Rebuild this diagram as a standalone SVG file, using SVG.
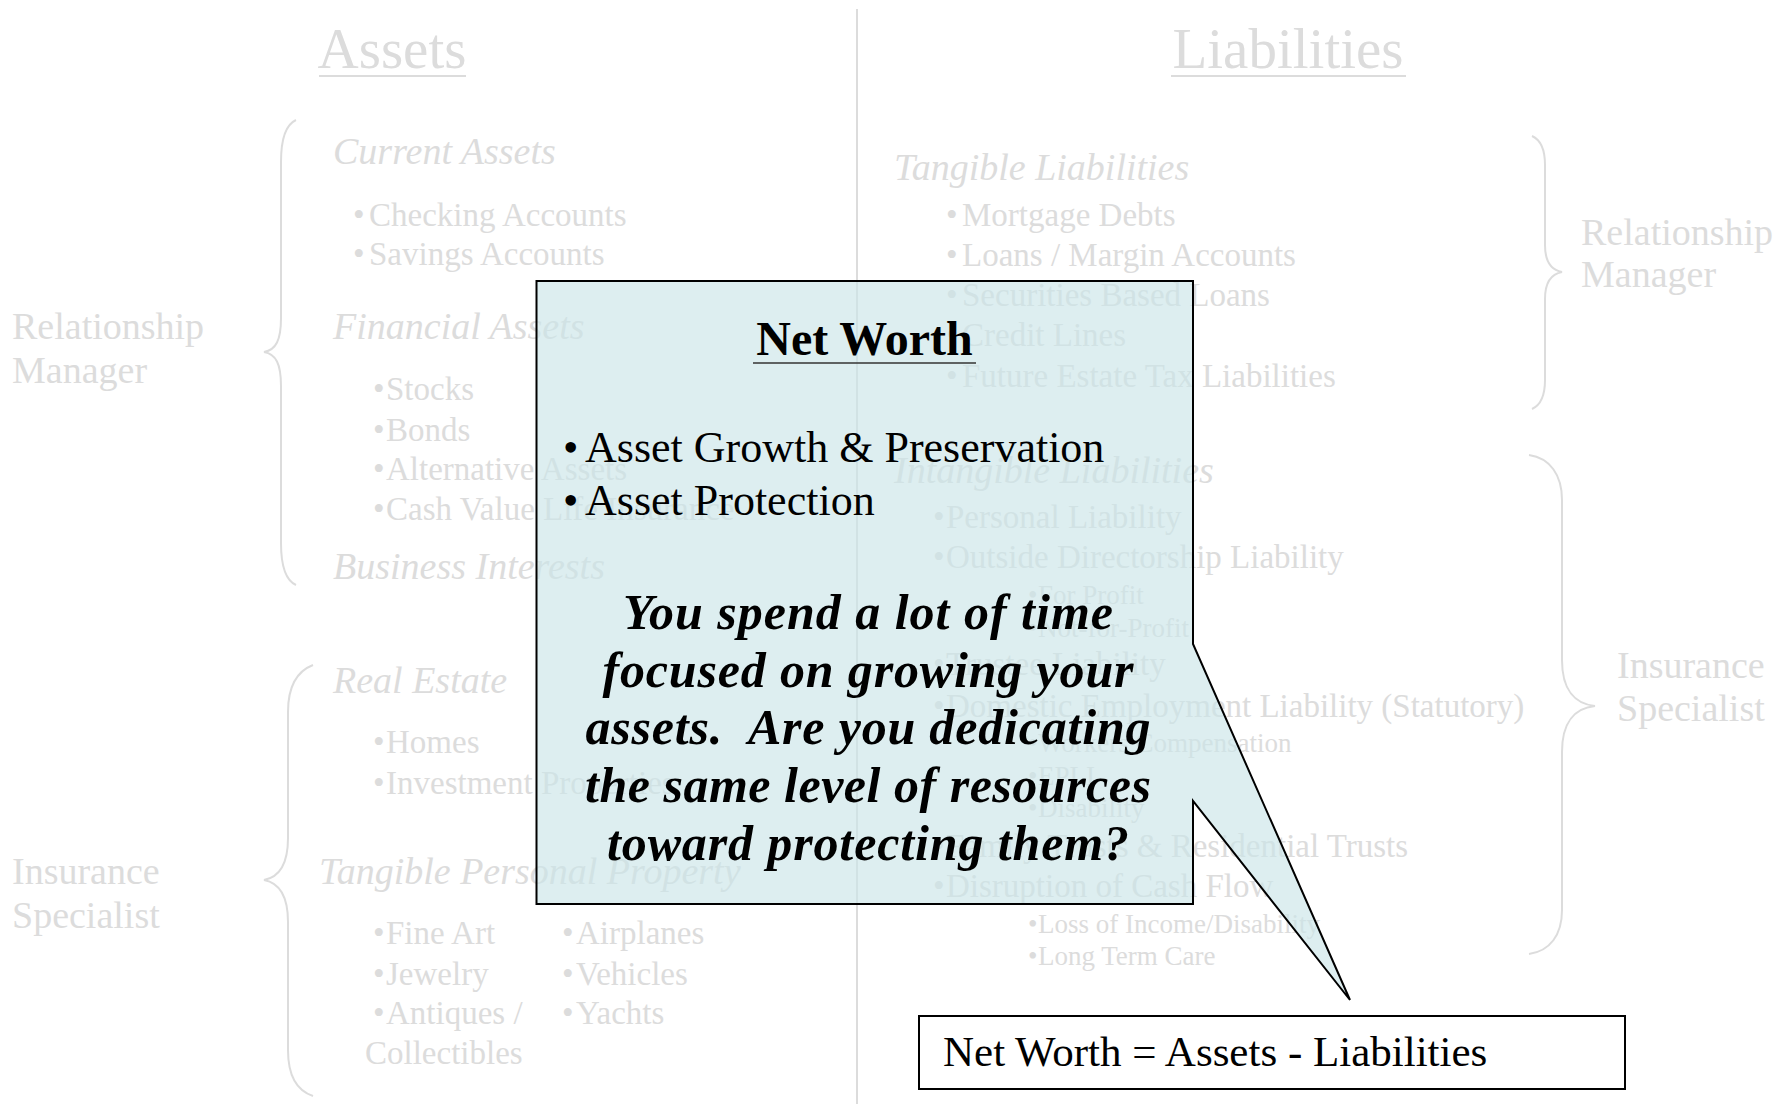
<svg xmlns="http://www.w3.org/2000/svg" width="1790" height="1104" viewBox="0 0 1790 1104">
<style>
text{font-family:"Liberation Serif","Times New Roman",serif;}
.g{fill:#dcdcdc;}
.t{font-size:57px;}
.h{font-size:38px;font-style:italic;}
.b{font-size:33px;}
.s{font-size:27px;}
.r{font-size:38px;}
.ln{stroke:#dcdcdc;stroke-width:2;fill:none;}
.k{fill:#000;}
</style>
<rect width="1790" height="1104" fill="#fff"/>
<g id="connectors">
<line class="ln" x1="857" y1="9" x2="857" y2="1104"/>
<path class="ln" d="M296,120 C285,125 281,140 281,162 V318 C281,340 276,350 264,352 C276,354 281,364 281,386 V543 C281,565 285,580 296,585"/>
<path class="ln" d="M313,665 C295,672 288,690 288,712 V838 C288,862 280,877 264,880 C280,883 288,898 288,922 V1050 C288,1073 295,1090 313,1096"/>
<path class="ln" d="M1532,136 C1541,140 1545,150 1545,165 V245 C1545,262 1551,270 1562,272 C1551,274 1545,282 1545,299 V380 C1545,395 1541,405 1532,409"/>
<path class="ln" d="M1529,455 C1550,458 1562,475 1562,500 V660 C1562,690 1575,704 1595,706 C1575,708 1562,722 1562,752 V910 C1562,935 1550,951 1529,954"/>
</g>
<g id="title-assets">
<text class="g t" x="392" y="68" text-anchor="middle">Assets</text>
<line class="ln" x1="319" y1="76" x2="466" y2="76" stroke-width="1.5"/>
</g>
<g id="title-liabilities">
<text class="g t" x="1288" y="68" text-anchor="middle">Liabilities</text>
<line class="ln" x1="1171" y1="76" x2="1406" y2="76" stroke-width="1.5"/>
</g>
<g id="role-left-rm" class="g r">
<text x="12" y="339">Relationship</text>
<text x="12" y="383">Manager</text>
</g>
<g id="role-left-is" class="g r">
<text x="12" y="884">Insurance</text>
<text x="12" y="928">Specialist</text>
</g>
<g id="role-right-rm" class="g r">
<text x="1581" y="245">Relationship</text>
<text x="1581" y="287">Manager</text>
</g>
<g id="role-right-is" class="g r">
<text x="1617" y="678">Insurance</text>
<text x="1617" y="721">Specialist</text>
</g>
<g id="current-assets" class="g">
<text class="h" x="333" y="164">Current Assets</text>
<text class="b" y="226"><tspan x="353">•</tspan><tspan x="369">Checking Accounts</tspan></text>
<text class="b" y="265"><tspan x="353">•</tspan><tspan x="369">Savings Accounts</tspan></text>
</g>
<g id="financial-assets" class="g">
<text class="h" x="333" y="339">Financial Assets</text>
<text class="b" y="400"><tspan x="373">•</tspan><tspan x="386">Stocks</tspan></text>
<text class="b" y="441"><tspan x="373">•</tspan><tspan x="386">Bonds</tspan></text>
<text class="b" y="480"><tspan x="373">•</tspan><tspan x="386">Alternative Assets</tspan></text>
<text class="b" y="520"><tspan x="373">•</tspan><tspan x="386">Cash Value Life Insurance</tspan></text>
</g>
<g id="business-interests" class="g">
<text class="h" x="333" y="579">Business Interests</text>
</g>
<g id="real-estate" class="g">
<text class="h" x="333" y="693">Real Estate</text>
<text class="b" y="753"><tspan x="373">•</tspan><tspan x="386">Homes</tspan></text>
<text class="b" y="794"><tspan x="373">•</tspan><tspan x="386">Investment Properties</tspan></text>
</g>
<g id="tangible-personal-property" class="g">
<text class="h" x="319" y="884">Tangible Personal Property</text>
<text class="b" y="944"><tspan x="373">•</tspan><tspan x="386">Fine Art</tspan></text>
<text class="b" y="985"><tspan x="373">•</tspan><tspan x="386">Jewelry</tspan></text>
<text class="b" y="1024"><tspan x="373">•</tspan><tspan x="386">Antiques /</tspan></text>
<text class="b" x="365" y="1064">Collectibles</text>
<text class="b" y="944"><tspan x="562">•</tspan><tspan x="576">Airplanes</tspan></text>
<text class="b" y="985"><tspan x="562">•</tspan><tspan x="576">Vehicles</tspan></text>
<text class="b" y="1024"><tspan x="562">•</tspan><tspan x="576">Yachts</tspan></text>
</g>
<g id="tangible-liabilities" class="g">
<text class="h" x="894" y="180">Tangible Liabilities</text>
<text class="b" y="226"><tspan x="946">•</tspan><tspan x="962">Mortgage Debts</tspan></text>
<text class="b" y="266"><tspan x="946">•</tspan><tspan x="962">Loans / Margin Accounts</tspan></text>
<text class="b" y="306"><tspan x="946">•</tspan><tspan x="962">Securities Based Loans</tspan></text>
<text class="b" y="346"><tspan x="946">•</tspan><tspan x="962">Credit Lines</tspan></text>
<text class="b" y="387"><tspan x="946">•</tspan><tspan x="962">Future Estate Tax Liabilities</tspan></text>
</g>
<g id="intangible-liabilities" class="g">
<text class="h" x="894" y="483">Intangible Liabilities</text>
<text class="b" y="528"><tspan x="933">•</tspan><tspan x="946">Personal Liability</tspan></text>
<text class="b" y="568"><tspan x="933">•</tspan><tspan x="946">Outside Directorship Liability</tspan></text>
<text class="s" y="604"><tspan x="1028">•</tspan><tspan x="1038">For Profit</tspan></text>
<text class="s" y="637"><tspan x="1028">•</tspan><tspan x="1038">Not-for-Profit</tspan></text>
<text class="b" y="675"><tspan x="933">•</tspan><tspan x="946">Trustee Liability</tspan></text>
<text class="b" y="717"><tspan x="933">•</tspan><tspan x="946">Domestic Employment Liability (Statutory)</tspan></text>
<text class="s" y="752"><tspan x="1028">•</tspan><tspan x="1038">Workers Compensation</tspan></text>
<text class="s" y="785"><tspan x="1028">•</tspan><tspan x="1038">EPLI</tspan></text>
<text class="s" y="817"><tspan x="1028">•</tspan><tspan x="1038">Disability</tspan></text>
<text class="b" y="857"><tspan x="933">•</tspan><tspan x="946">Family Trusts &amp; Residential Trusts</tspan></text>
<text class="b" y="897"><tspan x="933">•</tspan><tspan x="946">Disruption of Cash Flow</tspan></text>
<text class="s" y="933"><tspan x="1028">•</tspan><tspan x="1038">Loss of Income/Disability</tspan></text>
<text class="s" y="965"><tspan x="1028">•</tspan><tspan x="1038">Long Term Care</tspan></text>
</g>
<g id="callout">
<path d="M536.5,281 H1193 V644 L1350,1000 L1193,801 V904 H536.5 Z" fill="#cbe5e8" fill-opacity="0.65" stroke="#000" stroke-width="2" stroke-linejoin="miter"/>
<text class="k" x="864.5" y="355" text-anchor="middle" font-size="48" font-weight="bold">Net Worth</text>
<line x1="753" y1="363" x2="976" y2="363" stroke="#333" stroke-width="1.5"/>
<text class="k" font-size="44" y="462"><tspan x="563">•</tspan><tspan x="585">Asset Growth &amp; Preservation</tspan></text>
<text class="k" font-size="44" y="515"><tspan x="563">•</tspan><tspan x="585">Asset Protection</tspan></text>
<g class="k" font-size="50" font-weight="bold" font-style="italic" text-anchor="middle">
<text x="868" y="629" textLength="490" lengthAdjust="spacing">You spend a lot of time</text>
<text x="868" y="687" textLength="531" lengthAdjust="spacing">focused on growing your</text>
<text x="868" y="744" textLength="565" lengthAdjust="spacing" xml:space="preserve">assets.  Are you dedicating</text>
<text x="868" y="802" textLength="566" lengthAdjust="spacing">the same level of resources</text>
<text x="868" y="860" textLength="522" lengthAdjust="spacing">toward protecting them?</text>
</g>
</g>
<g id="equation">
<rect x="919" y="1016" width="706" height="73" fill="#fff" stroke="#000" stroke-width="2"/>
<text class="k" x="943" y="1066" font-size="43">Net Worth = Assets - Liabilities</text>
</g>
</svg>
